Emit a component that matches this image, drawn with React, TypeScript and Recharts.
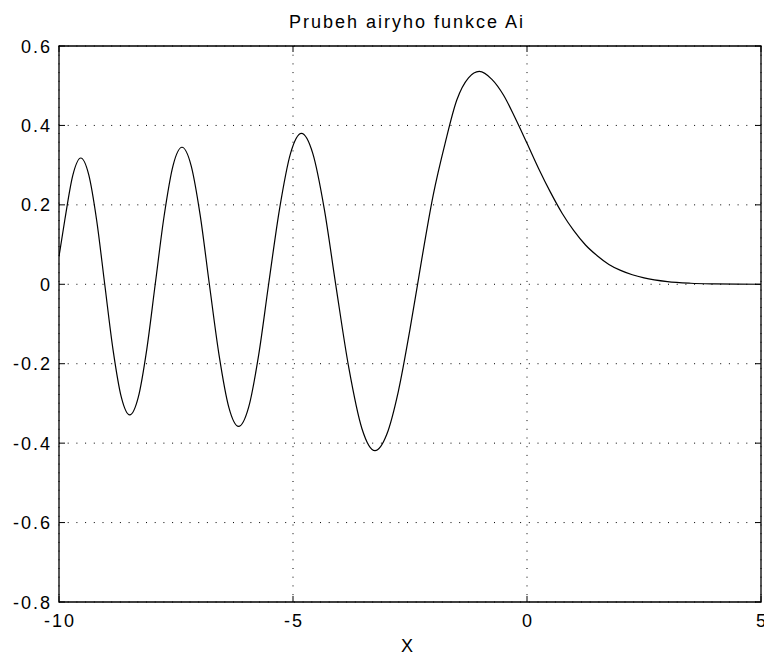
import React from "react";
import { LineChart, Line, XAxis, YAxis, CartesianGrid, ReferenceArea } from "recharts";

const xValues = [
  -10, -9.872, -9.704, -9.535, -9.365, -9.194, -9.023, -8.845, -8.667, -8.489, -8.307, -8.126,
  -7.944, -7.754, -7.563, -7.372, -7.177, -6.982, -6.787, -6.579, -6.371, -6.163, -5.949, -5.735,
  -5.521, -5.287, -5.054, -4.82, -4.576, -4.332, -4.088, -3.808, -3.528, -3.248, -3.0, -2.75,
  -2.5, -2.338, -2.25, -2.0, -1.75, -1.5, -1.25, -1.019, -0.75, -0.5, -0.25, 0, 0.25, 0.5, 0.75,
  1.0, 1.25, 1.5, 1.75, 2.0, 2.25, 2.5, 3.0, 3.5, 4.0, 4.5, 5.0,
];
const aiValues = [
  0.07, 0.165, 0.275, 0.318, 0.276, 0.16, 0, -0.165, -0.285, -0.329, -0.285, -0.165,
  0, 0.172, 0.299, 0.345, 0.299, 0.173, 0, -0.179, -0.31, -0.358, -0.31, -0.179,
  0, 0.19, 0.329, 0.38, 0.329, 0.19, 0, -0.21, -0.363, -0.419, -0.379, -0.27,
  -0.113, 0, 0.062, 0.227, 0.355, 0.464, 0.52, 0.536, 0.516, 0.476, 0.418, 0.355, 0.291, 0.232, 0.179,
  0.135, 0.099, 0.072, 0.05, 0.035, 0.024, 0.016, 0.0066, 0.0026, 0.001, 0.0003, 0.0001,
];
const xTicks = [-10, -5, 0, 5];
const yTicks = [-0.8, -0.6, -0.4, -0.2, 0, 0.2, 0.4, 0.6];
const titleText = "Prubeh airyho funkce Ai";
const xLabelText = "X";

const data = xValues.map((x, i) => ({ x, y: aiValues[i] }));

const W = 764;
const H = 657;
const PL = 59;
const PR = 761;
const PT = 46;
const PB = 602;
const FONT = "'Liberation Sans', Arial, Helvetica, sans-serif";
const FS = 18;
const LS = 2;

const YTick = (props: any) => {
  const { y, payload } = props;
  return (
    <g>
      <line x1={PL} x2={PL + 6} y1={y} y2={y} stroke="#000" strokeWidth={1} />
      <line x1={PR - 6} x2={PR} y1={y} y2={y} stroke="#000" strokeWidth={1} />
      <text x={PL - 7} y={y} dy={6.5} textAnchor="end" fontFamily={FONT} fontSize={FS} letterSpacing={LS} fill="#000">
        {String(payload.value)}
      </text>
    </g>
  );
};

const XTick = (props: any) => {
  const { x, payload } = props;
  return (
    <g>
      <line x1={x} x2={x} y1={PB} y2={PB - 6} stroke="#000" strokeWidth={1} />
      <line x1={x} x2={x} y1={PT} y2={PT + 6} stroke="#000" strokeWidth={1} />
      <text x={x + 1} y={PB + 25} textAnchor="middle" fontFamily={FONT} fontSize={FS} letterSpacing={LS} fill="#000">
        {String(payload.value)}
      </text>
    </g>
  );
};

export default function App() {
  return (
    <div style={{ position: "absolute", left: 0, top: 0, width: W, height: H, background: "#fff" }}>
      <LineChart width={W} height={H} data={data} margin={{ top: PT, right: W - PR, bottom: 0, left: 0 }}>
        <CartesianGrid stroke="#000" strokeDasharray="1 7.7" strokeWidth={1} />
        <XAxis
          dataKey="x"
          type="number"
          domain={[-10, 5]}
          ticks={xTicks}
          allowDataOverflow
          height={H - PB}
          axisLine={false}
          tickLine={false}
          tickSize={0}
          tick={<XTick />}
          interval={0}
        />
        <YAxis
          type="number"
          domain={[-0.8, 0.6]}
          ticks={yTicks}
          allowDataOverflow
          width={PL}
          axisLine={false}
          tickLine={false}
          tickSize={0}
          tick={<YTick />}
          interval={0}
        />
        <ReferenceArea x1={-10} x2={5} y1={-0.8} y2={0.6} fill="none" stroke="#000" strokeWidth={1.3} ifOverflow="visible" />
        <Line type="monotone" dataKey="y" stroke="#000" strokeWidth={1.2} dot={false} isAnimationActive={false} />
      </LineChart>
      <svg width={W} height={H} style={{ position: "absolute", left: 0, top: 0, pointerEvents: "none" }}>
        <text x={407} y={28} textAnchor="middle" fontFamily={FONT} fontSize={FS} letterSpacing={LS} fill="#000">
          {titleText}
        </text>
        <text x={407} y={652} textAnchor="middle" fontFamily={FONT} fontSize={FS} fill="#000">
          {xLabelText}
        </text>
      </svg>
    </div>
  );
}
